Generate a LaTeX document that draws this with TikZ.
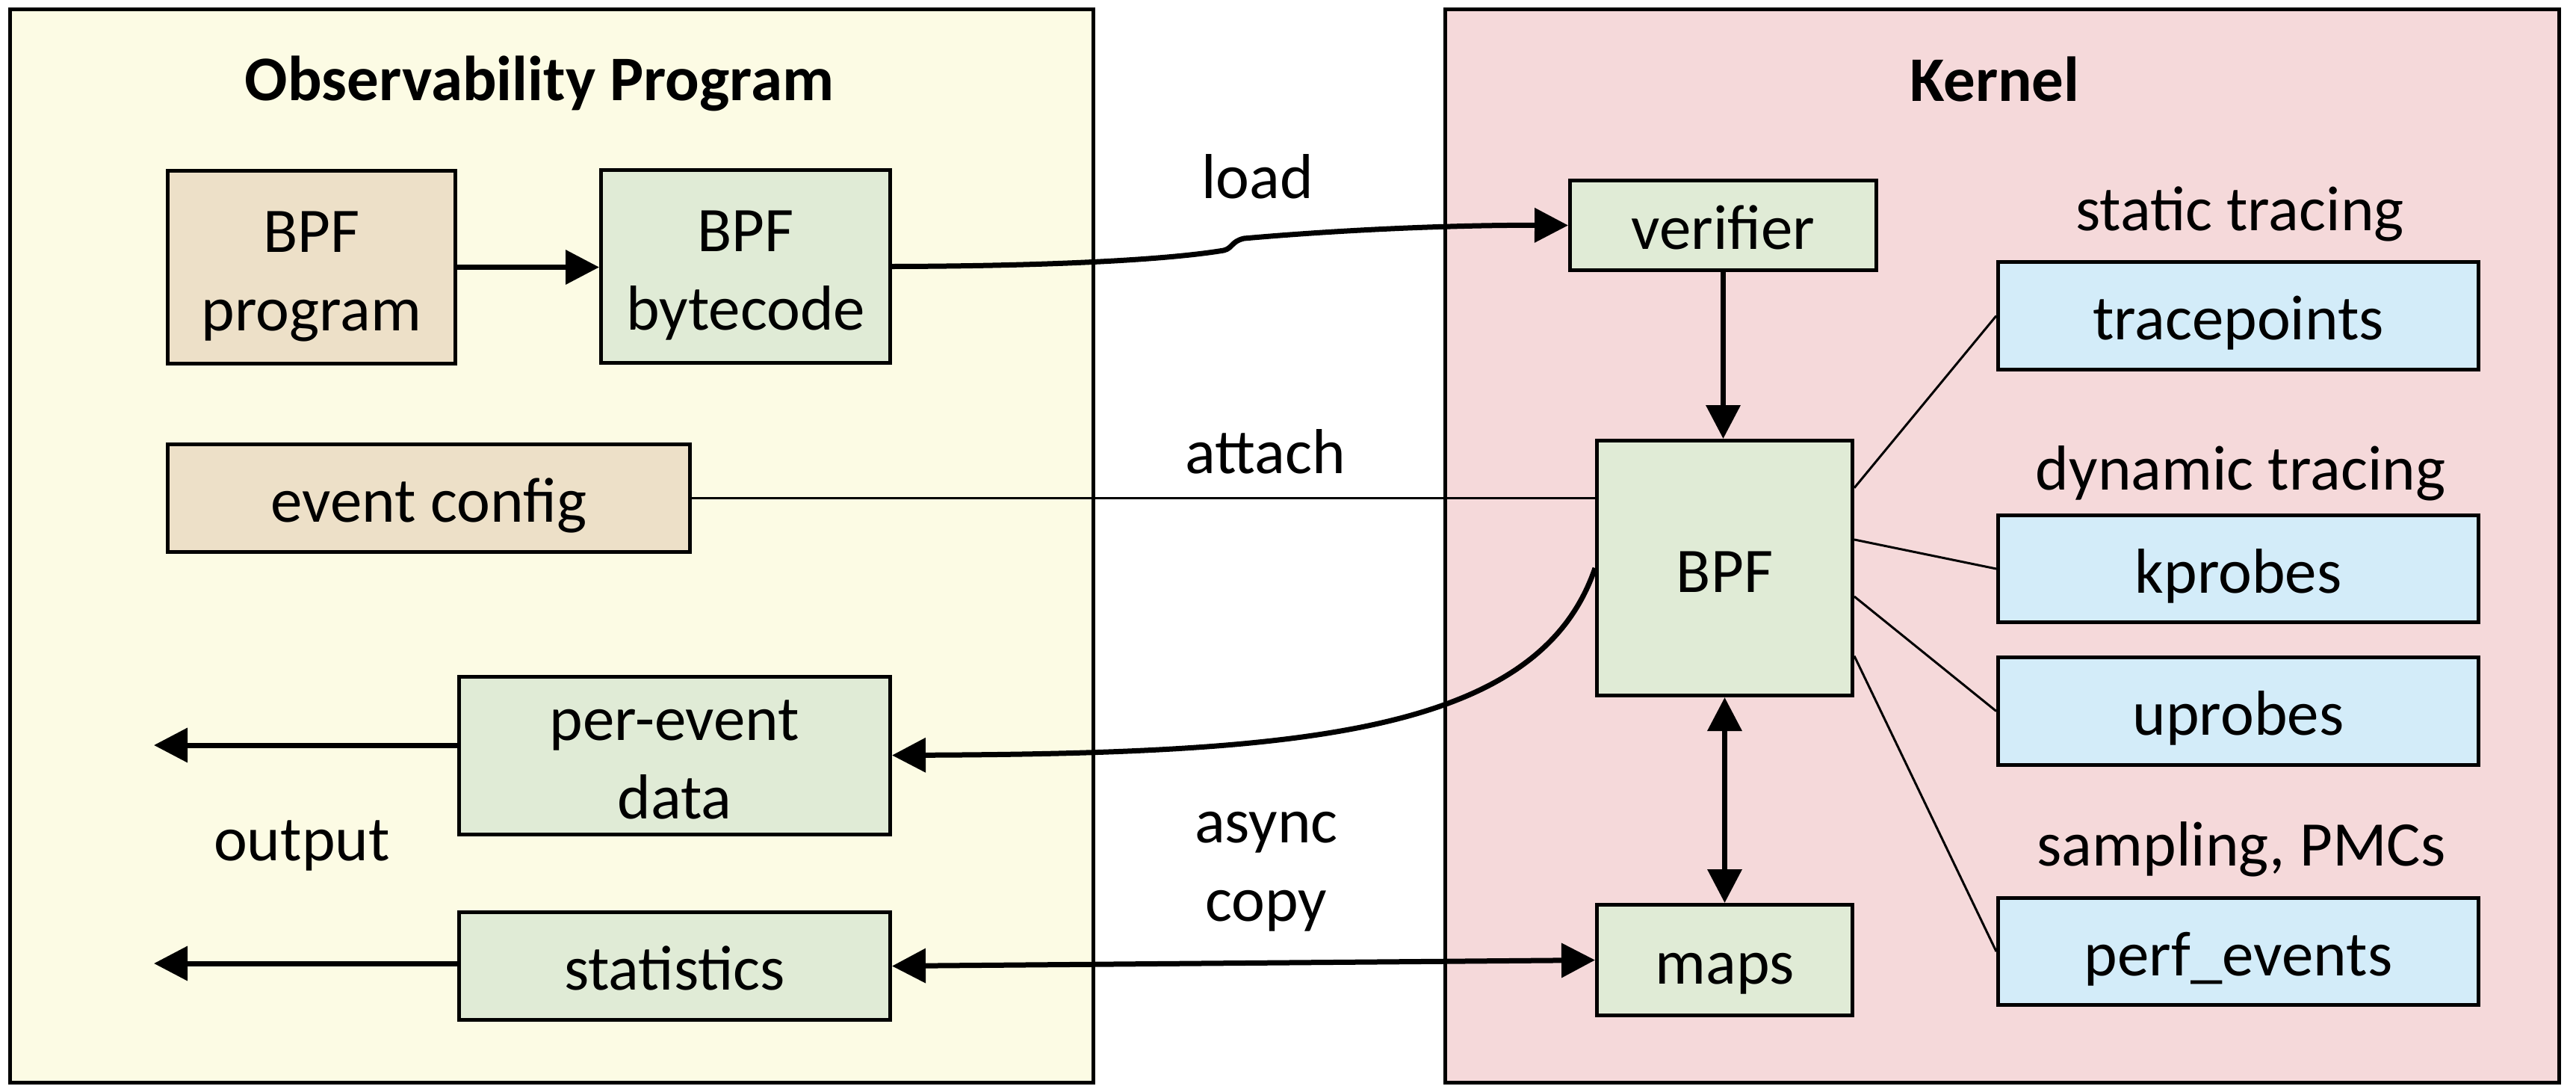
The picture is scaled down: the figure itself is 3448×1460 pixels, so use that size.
\documentclass[tikz,border=0pt]{standalone}
\usepackage{fontspec}
\setmainfont{Carlito}
\usetikzlibrary{arrows.meta,calc}
\definecolor{panelY}{RGB}{252,251,228}
\definecolor{panelK}{RGB}{245,217,218}
\definecolor{boxTan}{RGB}{237,224,200}
\definecolor{boxGreen}{RGB}{224,235,214}
\definecolor{boxBlue}{RGB}{211,236,249}
\newcommand{\mytopstrut}{\rule{0pt}{85pt}}
\newcommand{\mybotstrut}{\rule[-21pt]{0pt}{21pt}}
\begin{document}
\begin{tikzpicture}[x=1pt,y=-1pt,
  every node/.style={font=\fontsize{85}{105}\selectfont, inner sep=0pt},
  panel/.style={draw, line width=5pt},
  bx/.style={draw, line width=5pt, align=center},
  tanbox/.style={bx, fill=boxTan},
  greenbox/.style={bx, fill=boxGreen},
  bluebox/.style={bx, fill=boxBlue},
  lbl/.style={anchor=base},
  arr/.style={line width=7pt, -{Triangle[length=45pt,width=45pt]}},
  darr/.style={line width=7pt, {Triangle[length=45pt,width=45pt]}-{Triangle[length=45pt,width=45pt]}},
  thinline/.style={line width=3pt}]
\useasboundingbox (0,0) rectangle (3448,1460);
\fill[white] (0,0) rectangle (3448,1460);

% panels
\node[panel, fill=panelY, minimum width=1450pt, minimum height=1436pt] (obs) at (738.5,730.5) {};
\node[panel, fill=panelK, minimum width=1491pt, minimum height=1436pt] (kern) at (2680,730.5) {};
\node[lbl, font=\fontsize{85}{105}\selectfont\bfseries] (obstitle) at (722,134) {Observability Program};
\node[lbl, font=\fontsize{85}{105}\selectfont\bfseries] (kerntitle) at (2670,135) {Kernel};

% left boxes
\node[tanbox, minimum width=385pt, minimum height=258pt] (prog) at (417,357.5) {\mytopstrut BPF\\program\mybotstrut};
\node[greenbox, minimum width=387pt, minimum height=258pt] (bytecode) at (998,356.5) {\mytopstrut BPF\\bytecode\mybotstrut};
\node[tanbox, minimum width=699pt, minimum height=144pt] (ec) at (574,666.5) {\mytopstrut event config\mybotstrut};
\node[greenbox, minimum width=577pt, minimum height=210pt] (ped) at (903,1010.5) {\mytopstrut per-event\\data\mybotstrut};
\node[greenbox, minimum width=577pt, minimum height=144pt] (stats) at (903,1292.5) {\mytopstrut statistics\mybotstrut};

% kernel boxes
\node[greenbox, minimum width=410pt, minimum height=120pt] (verifier) at (2306.5,301.5) {\mytopstrut verifier\mybotstrut};
\node[greenbox, minimum width=342pt, minimum height=341pt] (bpf) at (2308.5,760) {\mytopstrut BPF\mybotstrut};
\node[greenbox, minimum width=342pt, minimum height=148pt] (maps) at (2308.5,1284.5) {\mytopstrut maps\mybotstrut};
\node[bluebox, minimum width=643pt, minimum height=144pt] (tp) at (2996,422.5) {\mytopstrut tracepoints\mybotstrut};
\node[bluebox, minimum width=643pt, minimum height=143pt] (kp) at (2996,761) {\mytopstrut kprobes\mybotstrut};
\node[bluebox, minimum width=643pt, minimum height=144pt] (up) at (2996,951.5) {\mytopstrut uprobes\mybotstrut};
\node[bluebox, minimum width=643pt, minimum height=143pt] (pe) at (2996,1273) {\mytopstrut perf\_events\mybotstrut};

% labels
\node[lbl] (loadlbl) at (1683,265) {load};
\node[lbl] (attachlbl) at (1694,633) {attach};
\node[align=center] (asynclbl) at (1695,1166) {async\\copy};
\node[lbl] (outlbl) at (404,1151) {output};
\node[lbl] (statlbl) at (2998,308) {static tracing};
\node[lbl] (dynlbl) at (2999,655) {dynamic tracing};
\node[lbl] (samplbl) at (3000,1158) {sampling, PMCs};

% connectors
\draw[arr] (prog.east) -- (prog.east -| bytecode.west);
\draw[arr] (bytecode.east) .. controls (1400,356) and (1560,348) .. (1638,335)
  .. controls (1650,332) and (1648,323) .. (1665,319)
  .. controls (1800,307) and (1950,301) .. (verifier.west);
\draw[thinline] (ec.east) -- (ec.east -| bpf.west);
\draw[arr] (bpf.west) .. controls (2060,980) and (1750,1008) .. (ped.east);
\draw[arr] (verifier.south) -- (verifier.south |- bpf.north);
\draw[darr] (bpf.south) -- (maps.north);
\draw[darr] (stats.east) -- (maps.west);
\coordinate (o1) at (206,997);
\coordinate (o2) at (206,1289);
\draw[arr] (ped.west |- o1) -- (o1);
\draw[arr] (stats.west |- o2) -- (o2);
\draw[thinline] ($(bpf.north east)!0.19!(bpf.south east)$) -- (tp.west);
\draw[thinline] ($(bpf.north east)!0.39!(bpf.south east)$) -- (kp.west);
\draw[thinline] ($(bpf.north east)!0.61!(bpf.south east)$) -- (up.west);
\draw[thinline] ($(bpf.north east)!0.84!(bpf.south east)$) -- (pe.west);
\end{tikzpicture}
\end{document}
